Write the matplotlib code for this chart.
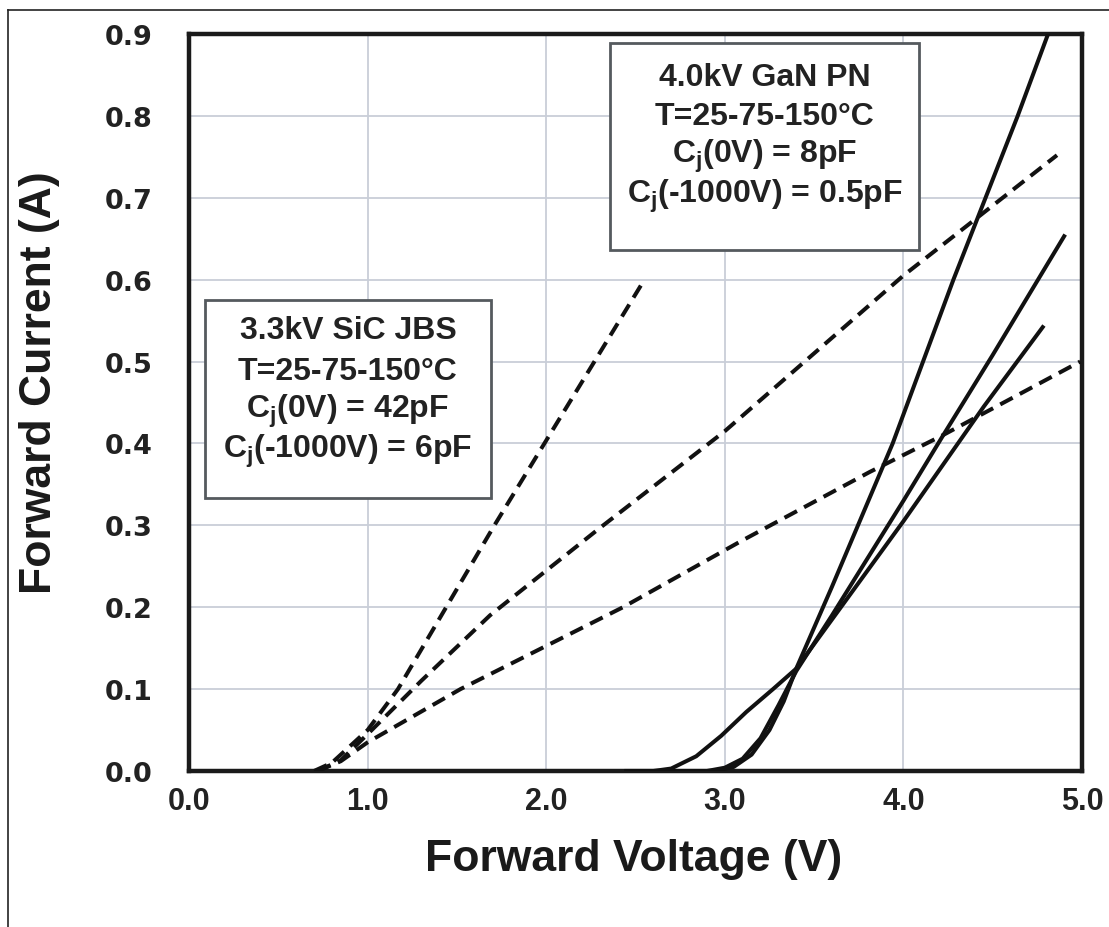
#!/usr/bin/env python3
"""Forward I-V of 3.3kV SiC JBS vs 4.0kV GaN PN diodes at 25/75/150 C."""

import matplotlib

matplotlib.use("Agg")
import matplotlib.pyplot as plt
from matplotlib.lines import Line2D
from matplotlib.patches import Rectangle

# SiC JBS curves (dashed)
sic_v_steep = [0.70, 0.80, 0.90, 1.00, 1.17, 1.44, 1.71, 1.99, 2.55]
sic_i_steep = [0.0, 0.010, 0.030, 0.050, 0.100, 0.200, 0.300, 0.400, 0.600]
sic_v_mid = [0.72, 0.85, 1.00, 1.30, 1.685, 2.29, 3.00, 4.00, 4.86]
sic_i_mid = [0.0, 0.013, 0.045, 0.110, 0.190, 0.295, 0.415, 0.605, 0.752]
sic_v_low = [0.72, 0.85, 1.00, 1.52, 2.43, 3.085, 3.81, 4.22, 4.99]
sic_i_low = [0.0, 0.012, 0.035, 0.100, 0.200, 0.280, 0.365, 0.410, 0.500]

# GaN PN curves (solid)
gan_v_a = [2.45, 2.95, 3.05, 3.15, 3.25, 3.33, 3.40, 3.60, 3.94, 4.11, 4.28, 4.46, 4.64, 4.81]
gan_i_a = [0.0, 0.0, 0.005, 0.020, 0.050, 0.085, 0.125, 0.225, 0.400, 0.500, 0.600, 0.700, 0.800, 0.900]
gan_v_b = [2.45, 2.90, 3.00, 3.10, 3.20, 3.30, 3.40, 3.60, 4.00, 4.22, 4.50, 4.90]
gan_i_b = [0.0, 0.0, 0.004, 0.015, 0.040, 0.080, 0.122, 0.190, 0.330, 0.409, 0.508, 0.653]
gan_v_c = [2.45, 2.60, 2.70, 2.84, 2.98, 3.12, 3.27, 3.40, 3.60, 4.00, 4.45, 4.78]
gan_i_c = [0.0, 0.0, 0.003, 0.018, 0.043, 0.072, 0.100, 0.125, 0.185, 0.305, 0.445, 0.542]

x_ticks = [0, 1, 2, 3, 4, 5]
y_ticks = [0.0, 0.1, 0.2, 0.3, 0.4, 0.5, 0.6, 0.7, 0.8, 0.9]

gan_lines = [
    "4.0kV GaN PN",
    "T=25-75-150\u00b0C",
    r"C$_\mathrm{j}$(0V) = 8pF",
    r"C$_\mathrm{j}$(-1000V) = 0.5pF",
]
sic_lines = [
    "3.3kV SiC JBS",
    "T=25-75-150\u00b0C",
    r"C$_\mathrm{j}$(0V) = 42pF",
    r"C$_\mathrm{j}$(-1000V) = 6pF",
]

FONT = "Liberation Sans"
plt.rcParams.update({
    "font.family": [FONT, "DejaVu Sans"],
    "font.weight": "bold",
    "mathtext.fontset": "custom",
    "mathtext.rm": f"{FONT}:bold",
    "mathtext.it": f"{FONT}:bold",
    "mathtext.bf": f"{FONT}:bold",
})

W, H = 1109, 928
fig = plt.figure(figsize=(W / 100, H / 100), dpi=100)
ax = fig.add_axes([189 / W, 1 - 772 / H, 893 / W, 737 / H])

LW = 2.9
DASH = (0, (3.5, 2.0))
for v, i in [(sic_v_steep, sic_i_steep), (sic_v_mid, sic_i_mid),
             (sic_v_low, sic_i_low)]:
    ax.plot(v, i, color="#111111", lw=LW, linestyle=DASH, zorder=3)
for v, i in [(gan_v_a, gan_i_a), (gan_v_b, gan_i_b), (gan_v_c, gan_i_c)]:
    ax.plot(v, i, color="#111111", lw=LW, zorder=3)

ax.set_xlim(0, 5)
ax.set_ylim(0, 0.9)
ax.set_xticks(x_ticks, [f"{t:.1f}" for t in x_ticks])
ax.set_yticks(y_ticks, [f"{t:.1f}" for t in y_ticks])
ax.grid(True, color="#c9ced8", lw=1.3)
ax.set_axisbelow(True)
ax.tick_params(axis="both", length=0, colors="#222222")
ax.tick_params(axis="x", pad=11, labelsize=22)
ax.tick_params(axis="y", pad=26, labelsize=19.5)
for lab in ax.get_yticklabels():
    lab.set_fontfamily("DejaVu Sans")
    lab.set_fontweight("bold")
for lab in ax.get_xticklabels():
    lab.set_fontweight("bold")
for sp in ax.spines.values():
    sp.set_linewidth(3.2)
    sp.set_color("#1a1a1a")

fig.text(634 / W, 1 - 860 / H, "Forward Voltage (V)", ha="center",
         va="center", fontsize=32, fontweight="bold", color="#1a1a1a")
fig.text(40 / W, 1 - 383 / H, "Forward Current (A)", ha="center",
         va="center", rotation=90, fontsize=32, fontweight="bold",
         color="#1a1a1a")


def text_box(x0, x1, y0, y1, lines, ys):
    ax.add_patch(Rectangle((x0, y0), x1 - x0, y1 - y0, facecolor="white",
                           edgecolor="#555a5e", lw=2.0, zorder=4))
    xc = (x0 + x1) / 2
    for s, y in zip(lines, ys):
        ax.text(xc, y, s, ha="center", va="center", fontsize=23,
                fontweight="bold", color="#222222", zorder=5)


text_box(2.36, 4.09, 0.636, 0.889, gan_lines, [0.848, 0.800, 0.752, 0.703])
text_box(0.09, 1.69, 0.333, 0.575, sic_lines, [0.538, 0.489, 0.440, 0.391])

# outer frame of the original picture (top and left edges only)
fig.add_artist(Line2D([8 / W, 1.0], [1 - 11 / H, 1 - 11 / H],
                      color="#222222", lw=1.2))
fig.add_artist(Line2D([8 / W, 8 / W], [0.0, 1 - 11 / H],
                      color="#222222", lw=1.2))

fig.savefig("out.png", dpi=100)
plt.close(fig)
